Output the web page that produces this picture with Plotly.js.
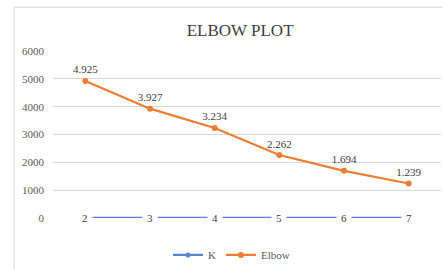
<!DOCTYPE html>
<html>
<head>
<meta charset="utf-8">
<script src="https://cdn.plot.ly/plotly-3.0.1.min.js"></script>
<style>html,body{margin:0;padding:0;background:#fff;}#chart{width:443px;height:270px;}</style>
</head>
<body>
<div id="chart"></div>
<script>
const categories = ['2', '3', '4', '5', '6', '7'];
const kValues = [2, 3, 4, 5, 6, 7];
const elbowValues = [4925, 3927, 3234, 2262, 1694, 1239];
const yTicks = [0, 1000, 2000, 3000, 4000, 5000, 6000];

const serif = "'Liberation Serif', 'Times New Roman', serif";
const grey = '#595959';

const traces = [
  {
    name: 'K', x: categories, y: kValues, type: 'scatter', mode: 'lines+markers',
    line: {color: '#5B84D0', width: 2.25}, marker: {color: '#5B84D0', size: 5},
    hoverinfo: 'skip'
  },
  {
    name: 'Elbow', x: categories, y: elbowValues, type: 'scatter', mode: 'lines+markers+text',
    line: {color: '#ED7D31', width: 2.25}, marker: {color: '#ED7D31', size: 6},
    texttemplate: '%{y:,.0f}', textposition: 'top center',
    textfont: {family: serif, size: 11, color: '#404040'},
    hoverinfo: 'skip'
  }
];

const annotations = categories.map((c, i) => ({
  x: i, y: kValues[i], xref: 'x', yref: 'y', text: String(kValues[i]),
  showarrow: false, bgcolor: '#ffffff', borderpad: 4,
  font: {family: serif, size: 11, color: '#404040'}
}));

const layout = {
  width: 443, height: 270,
  margin: {l: 53, r: 2, t: 51, b: 51},
  paper_bgcolor: '#ffffff', plot_bgcolor: '#ffffff',
  separators: ',.',
  showlegend: true,
  title: {
    text: 'ELBOW PLOT', x: 0.542, y: 0.889, xanchor: 'center', yanchor: 'middle',
    font: {family: serif, size: 17, color: '#404040'}
  },
  xaxis: {
    type: 'category', range: [-0.5, 5.5], showticklabels: false, showgrid: false,
    zeroline: false, showline: false, ticks: '', fixedrange: true
  },
  yaxis: {
    range: [0, 6000], tickvals: yTicks, ticktext: yTicks.map(String),
    showgrid: true, gridcolor: '#D9D9D9', gridwidth: 1, zeroline: false,
    showline: false, ticks: '', ticklabelstandoff: 8,
    tickfont: {family: serif, size: 11, color: grey}
  },
  legend: {
    orientation: 'h', x: 0.46, y: -0.214, xanchor: 'center', yanchor: 'middle',
    font: {family: serif, size: 11, color: grey}, itemwidth: 30,
    bgcolor: 'rgba(0,0,0,0)'
  },
  annotations: annotations,
  shapes: [{
    type: 'rect', xref: 'paper', yref: 'paper', x0: -0.1004, x1: 1.05, y0: -0.5, y1: 1.262,
    line: {color: '#D9D9D9', width: 1}, fillcolor: 'rgba(0,0,0,0)', layer: 'below'
  }]
};

Plotly.newPlot('chart', traces, layout, {displayModeBar: false, staticPlot: true});
</script>
</body>
</html>
